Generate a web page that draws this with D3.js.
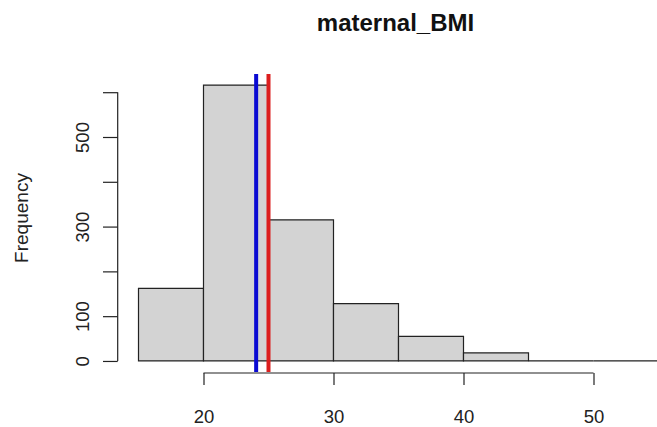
<!DOCTYPE html>
<html>
<head>
<meta charset="utf-8">
<script src="https://cdn.jsdelivr.net/npm/d3@7"></script>
<style>
  html, body { margin: 0; padding: 0; background: #fff; }
  svg { display: block; font-family: "Liberation Sans", Arial, sans-serif; }
</style>
</head>
<body>
<svg id="chart" width="657" height="427"></svg>
<script>
// Histogram of maternal BMI (bin width 5) with mean and median markers
const binStarts = [15, 20, 25, 30, 35, 40, 45, 50];
const binWidth = 5;
const counts = [162, 616, 315, 128, 55, 18, 0, 0];
const xTicks = [20, 30, 40, 50];
const yTicks = [0, 100, 200, 300, 400, 500, 600];
const yTickLabels = ["0", "100", "", "300", "", "500", ""];
const medianBMI = 24.05;
const meanBMI = 25.0;
const title = "maternal_BMI";
const yTitle = "Frequency";

const svg = d3.select("#chart");

// plot region, with 4% padding around the data range on both axes
const plot = { left: 117.7, right: 679.3, top: 74, bottom: 372 };
const xMin = d3.min(binStarts), xMax = d3.max(binStarts) + binWidth;
const xPad = (xMax - xMin) * 0.04;
const yMax = d3.max(counts), yPad = yMax * 0.04;

const x = d3.scaleLinear()
  .domain([xMin - xPad, xMax + xPad])
  .range([plot.left, plot.right]);
const y = d3.scaleLinear()
  .domain([-yPad, yMax + yPad])
  .range([plot.bottom, plot.top]);

const bins = binStarts.map((s, i) => ({ x0: s, x1: s + binWidth, n: counts[i] }));

// bars as closed paths so that empty bins still show their outline
svg.append("g")
  .selectAll("path")
  .data(bins)
  .join("path")
  .attr("d", d => {
    const l = x(d.x0), r = x(d.x1), t = y(d.n), b = y(0);
    return `M${l},${b}V${t}H${r}V${b}Z`;
  })
  .attr("fill", "#d3d3d3")
  .attr("stroke", "#222")
  .attr("stroke-width", 1.2);

// median and mean lines across the plot region
svg.append("line")
  .attr("x1", x(medianBMI)).attr("x2", x(medianBMI))
  .attr("y1", plot.top).attr("y2", plot.bottom)
  .attr("stroke", "#0a0ad2").attr("stroke-width", 4);
svg.append("line")
  .attr("x1", x(meanBMI)).attr("x2", x(meanBMI))
  .attr("y1", plot.top).attr("y2", plot.bottom)
  .attr("stroke", "#dc1e1e").attr("stroke-width", 4);

// x axis
const xAxis = d3.axisBottom(x)
  .tickValues(xTicks)
  .tickSize(12)
  .tickPadding(25)
  .tickSizeOuter(0);
const gx = svg.append("g")
  .attr("transform", `translate(0,${plot.bottom + 1})`)
  .call(xAxis);
gx.select(".domain")
  .attr("d", `M${x(d3.min(xTicks))},0H${x(d3.max(xTicks))}`)
  .attr("stroke", "#222").attr("stroke-width", 1.2);
gx.selectAll(".tick line").attr("stroke", "#222").attr("stroke-width", 1.2);
gx.selectAll(".tick text")
  .attr("font-size", 18.5).attr("fill", "#222")
  .attr("font-family", "Liberation Sans, Arial, sans-serif");

// y axis
const yAxis = d3.axisLeft(y)
  .tickValues(yTicks)
  .tickFormat((d, i) => yTickLabels[i])
  .tickSize(14.7)
  .tickSizeOuter(0);
const gy = svg.append("g")
  .attr("transform", `translate(${plot.left},0)`)
  .call(yAxis);
gy.select(".domain")
  .attr("d", `M0,${y(d3.min(yTicks))}V${y(d3.max(yTicks))}`)
  .attr("stroke", "#222").attr("stroke-width", 1.2);
gy.selectAll(".tick line").attr("stroke", "#222").attr("stroke-width", 1.2);
gy.selectAll(".tick text")
  .attr("font-size", 18.5).attr("fill", "#222")
  .attr("font-family", "Liberation Sans, Arial, sans-serif")
  .attr("x", null).attr("dy", null)
  .attr("text-anchor", "middle")
  .attr("transform", "translate(-29,0) rotate(-90)");

// titles
svg.append("text")
  .attr("x", (plot.left + plot.right) / 2 - 3)
  .attr("y", 31)
  .attr("text-anchor", "middle")
  .attr("font-weight", "bold")
  .attr("font-size", 24)
  .attr("fill", "#111")
  .text(title);

svg.append("text")
  .attr("transform", `translate(28,${(plot.top + plot.bottom) / 2 - 5}) rotate(-90)`)
  .attr("text-anchor", "middle")
  .attr("font-size", 19)
  .attr("fill", "#222")
  .text(yTitle);
</script>
</body>
</html>
